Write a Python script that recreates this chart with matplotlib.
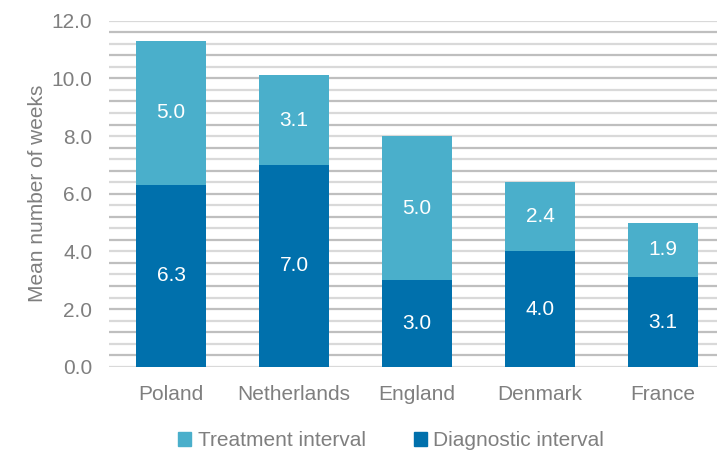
import matplotlib
matplotlib.use("Agg")
import matplotlib.pyplot as plt
from matplotlib.patches import Patch
import numpy as np

countries = ["Poland", "Netherlands", "England", "Denmark", "France"]
diagnostic = [6.3, 7.0, 3.0, 4.0, 3.1]
treatment = [5.0, 3.1, 5.0, 2.4, 1.9]
yticks = [0, 2, 4, 6, 8, 10, 12]

dark = "#0070AC"
light = "#4AAFCB"
gray = "#7F7F7F"
fs = 15

plt.rcParams['font.family'] = ['Liberation Sans', 'DejaVu Sans']

fig = plt.figure(figsize=(7.17, 4.53), dpi=100)
ax = fig.add_axes([109/717, (453-366.7)/453, (717-109)/717, (366.7-20.7)/453])

x = np.arange(len(countries))
w = 0.57
ax.bar(x, diagnostic, w, color=dark, zorder=3)
ax.bar(x, treatment, w, bottom=diagnostic, color=light, zorder=3)

for xi, d, t in zip(x, diagnostic, treatment):
    ax.text(xi, d/2, f"{d:.1f}", ha="center", va="center", color="white", fontsize=fs, zorder=4)
    ax.text(xi, d + t/2, f"{t:.1f}", ha="center", va="center", color="white", fontsize=fs, zorder=4)

ax.set_ylim(0, 12)
ax.set_xlim(-0.505, -0.505 + 608/123)
ax.set_yticks(yticks)
ax.set_yticklabels([f"{v:.1f}" for v in yticks])
ax.set_xticks(x)
ax.set_xticklabels(countries)

for i, yv in enumerate(np.arange(0, 12.01, 0.4)):
    c = "#D9D9D9" if i % 2 == 0 else "#BFBFBF"
    ax.axhline(yv, color=c, lw=1.6, zorder=1)

for s in ax.spines.values():
    s.set_visible(False)
ax.tick_params(axis="both", length=0, colors=gray, labelsize=fs)
ax.tick_params(axis="x", pad=13)
ax.tick_params(axis="y", pad=12)
ax.set_ylabel("Mean number of weeks", color=gray, fontsize=fs, labelpad=3)

handles = [Patch(color=light, label="Treatment interval"), Patch(color=dark, label="Diagnostic interval")]
fig.legend(handles=handles, loc="center", bbox_to_anchor=(391/717, (453-441)/453), ncol=2,
           frameon=False, fontsize=fs, handlelength=0.65, handleheight=0.65,
           handletextpad=0.3, columnspacing=2.3, labelcolor=gray)

fig.savefig("out.png", dpi=100)
